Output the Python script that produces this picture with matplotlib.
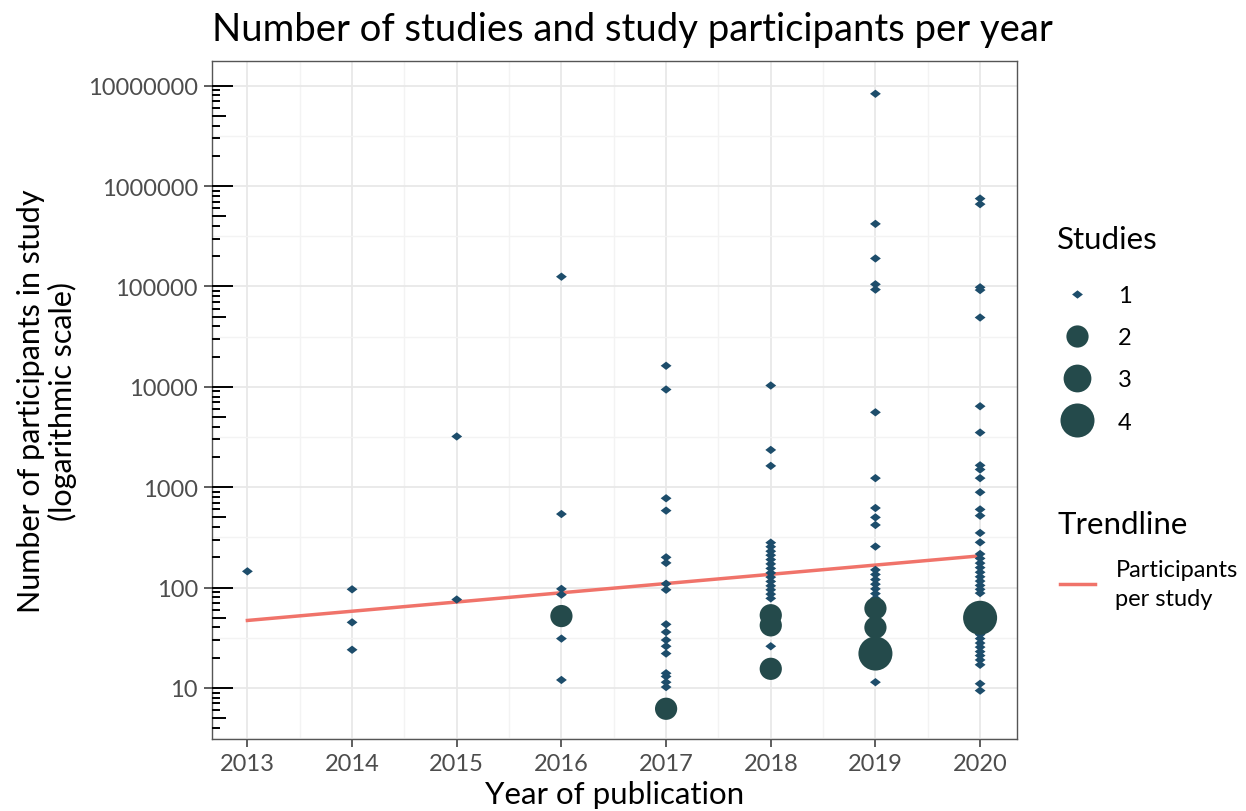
import numpy as np
import matplotlib.pyplot as plt
from matplotlib.lines import Line2D
from matplotlib.path import Path
from matplotlib.ticker import FixedLocator, FuncFormatter, NullFormatter

plt.rcParams['font.family'] = ['Lato', 'DejaVu Sans']

# participants per study, single studies (one study per value)
p2013 = [145]
p2014 = [96, 45, 24]
p2015 = [3200, 76]
p2016 = [125000, 540, 97, 85, 31, 12]
p2017 = [16200, 9400, 775, 584, 200, 176, 109, 95, 43, 36, 30, 26, 22,
         14, 13, 11.4, 10.2]
p2018 = [10300, 2350, 1630, 280, 255, 230, 210, 190, 172, 155, 140, 127,
         115, 104, 95, 86, 78, 26]
p2019 = [8300000, 420000, 190000, 105000, 93000, 5570, 1230, 620, 500,
         420, 256, 150, 135, 120, 108, 97, 87, 78, 11.4]
p2020 = [750000, 660000, 98000, 92000, 49000, 6400, 3500, 1650, 1500,
         1230, 890, 600, 520, 350, 282, 216, 195, 175, 158, 142, 128, 116,
         105, 96, 88, 42, 38, 34, 31, 28, 25.5, 23, 21, 19, 17, 11, 9.4]
single_years = [2013, 2014, 2015, 2016, 2017, 2018, 2019, 2020]
single_values = [p2013, p2014, p2015, p2016, p2017, p2018, p2019, p2020]

# several studies with the same participant count
multi_year = [2016, 2017, 2018, 2018, 2018, 2019, 2019, 2019, 2020]
multi_value = [52, 6.2, 53, 42, 15.5, 62, 40, 22, 50]
multi_count = [2, 2, 2, 2, 2, 2, 2, 4, 4]

# trendline end points
trend_years = [2013, 2020]
trend_values = [47, 207]

legend_counts = [1, 2, 3, 4]
year_ticks = [2013, 2014, 2015, 2016, 2017, 2018, 2019, 2020]

small_col = '#1d4d6b'
big_col = '#244a4b'
trend_col = '#f0736a'
grey_txt = '#4d4d4d'

# marker sizes (points) per number of studies
msize = {1: 7.8, 2: 16, 3: 20, 4: 24.5}
diamond = Path([(-1.3, 0), (0, 1), (1.3, 0), (0, -1), (-1.3, 0)],
               [Path.MOVETO, Path.LINETO, Path.LINETO, Path.LINETO, Path.CLOSEPOLY])


def marker_for(n):
    return diamond if n == 1 else 'o'


fig = plt.figure(figsize=(12.46, 8.12), dpi=100)
ax = fig.add_axes([0.170, 0.0887, 0.646, 0.8349])

ax.set_yscale('log')
ax.set_xlim(2012.66, 2020.35)
ax.set_ylim(3.1, 1.76e7)

# grid
ax.xaxis.set_major_locator(FixedLocator(year_ticks))
ax.xaxis.set_minor_locator(FixedLocator(np.arange(2012.5, 2021, 1.0)))
ax.yaxis.set_major_locator(FixedLocator(10.0 ** np.arange(1, 8)))
ax.yaxis.set_minor_locator(FixedLocator(10.0 ** np.arange(0.5, 7.5, 1.0)))
ax.yaxis.set_major_formatter(FuncFormatter(lambda v, _: f'{int(round(v))}'))
ax.yaxis.set_minor_formatter(NullFormatter())
ax.grid(which='major', color='#e8e8e8', lw=1.3)
ax.grid(which='minor', color='#f3f3f3', lw=1.0)
ax.set_axisbelow(True)

ax.tick_params(which='minor', length=0)
ax.tick_params(which='major', direction='out', length=6, width=1.1,
               color='#333333', labelcolor=grey_txt, labelsize=17, pad=4)
for s in ax.spines.values():
    s.set_color('#555555')
    s.set_linewidth(1.0)

# log ticks inside left edge
ytr = ax.get_yaxis_transform()
for d in range(0, 8):
    for k in range(1, 10):
        v = k * 10.0 ** d
        if v < 3.1 or v > 1.76e7:
            continue
        L = 21 if k == 1 else (14 if k == 5 else 8)
        ax.plot([0, L / 805], [v, v], transform=ytr, color='black', lw=1.4,
                solid_capstyle='butt', clip_on=False, zorder=5)

# trendline
ax.plot(trend_years, trend_values, color=trend_col, lw=2.5, zorder=2)

# single studies
for yr, vals in zip(single_years, single_values):
    ax.scatter([yr] * len(vals), vals, s=msize[1] ** 2, marker=diamond,
               color=small_col, edgecolors='none', zorder=3)

# repeated values
for yr, v, n in zip(multi_year, multi_value, multi_count):
    ax.scatter([yr], [v], s=msize[n] ** 2, marker='o', color=big_col,
               edgecolors='none', zorder=4)

fig.text(212 / 1246, 1 - 30 / 812, 'Number of studies and study participants per year',
         ha='left', va='center', fontsize=27.5, color='black')

ax.set_xlabel('Year of publication', fontsize=22.5)
ax.xaxis.set_label_coords(0.5, -0.081)
ax.xaxis.label.set_va('center')
ax.set_ylabel('Number of participants in study\n(logarithmic scale)', fontsize=22,
              linespacing=1.12)
ax.yaxis.set_label_coords(-0.205, 0.5)
ax.yaxis.label.set_va('center')

# legends
fig.text(1057 / 1246, 1 - 240 / 812, 'Studies', ha='left', va='center', fontsize=22.5)
fig.text(1057 / 1246, 1 - 525 / 812, 'Trendline', ha='left', va='center', fontsize=22.5)

h1 = [Line2D([], [], ls='none', marker=marker_for(n), markersize=msize[n],
             color=small_col if n == 1 else big_col, markeredgewidth=0)
      for n in legend_counts]
leg1 = ax.legend(h1, [str(n) for n in legend_counts],
                 loc='upper left', bbox_to_anchor=(1058 / 1246, 1 - 286 / 812),
                 bbox_transform=fig.transFigure, frameon=False, fontsize=17,
                 labelspacing=0.9, handletextpad=0.94, handlelength=1.6,
                 borderaxespad=0, borderpad=0)
ax.add_artist(leg1)

h2 = [Line2D([], [], color=trend_col, lw=2.5)]
ax.legend(h2, ['Participants\nper study'],
          loc='upper left', bbox_to_anchor=(1060 / 1246, 1 - 560 / 812),
          bbox_transform=fig.transFigure, frameon=False, fontsize=17,
          handletextpad=0.85, handlelength=1.5, borderaxespad=0, borderpad=0)
for t in ax.get_legend().get_texts():
    t.set_linespacing(1.5)

fig.savefig('out.png', dpi=100)
